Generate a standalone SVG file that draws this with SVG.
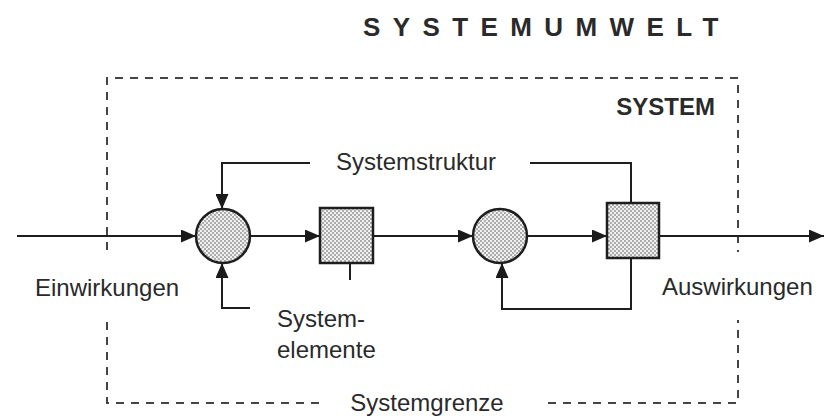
<svg xmlns="http://www.w3.org/2000/svg" width="826" height="419" viewBox="0 0 826 419">
<defs>
<style>
.t{font-family:"Liberation Sans",Arial,sans-serif;font-size:24px;fill:#2a2a2a}
.b{font-weight:bold}
.ln{fill:none;stroke:#1e1e1e;stroke-width:2}
.dash{fill:none;stroke:#444;stroke-width:2;stroke-dasharray:8 7}
.node{stroke:#1e1e1e;stroke-width:2.5;fill:url(#dots)}
</style>
<pattern id="dots" width="4" height="4" patternUnits="userSpaceOnUse">
<rect width="4" height="4" fill="#f0f0f0"/>
<circle cx="1" cy="1" r="0.9" fill="#8c8c8c"/>
<circle cx="3" cy="3" r="0.9" fill="#8c8c8c"/>
</pattern>
<marker id="ah" markerUnits="userSpaceOnUse" markerWidth="16" markerHeight="13" refX="15" refY="6.5" orient="auto">
<path d="M0,0 L15,6.5 L0,13 z" fill="#1a1a1a"/>
</marker>
</defs>
<rect width="826" height="419" fill="#ffffff"/>

<g id="boundary">
<path class="dash" d="M107,250 L107,78 L738,78 L738,252"/>
<path class="dash" d="M107,322 L107,403 L322,403"/>
<path class="dash" d="M548,403 L738,403 L738,320"/>
</g>

<g id="connectors">
<line class="ln" x1="17" y1="236" x2="196" y2="236" marker-end="url(#ah)"/>
<line class="ln" x1="250" y1="236" x2="320" y2="236" marker-end="url(#ah)"/>
<line class="ln" x1="373" y1="236" x2="473" y2="236" marker-end="url(#ah)"/>
<line class="ln" x1="527" y1="236" x2="607" y2="236" marker-end="url(#ah)"/>
<line class="ln" x1="659" y1="236" x2="824" y2="236" marker-end="url(#ah)"/>
<polyline class="ln" points="310,163 222,163 222,209" marker-end="url(#ah)"/>
<polyline class="ln" points="530,163 631,163 631,203"/>
<polyline class="ln" points="250,308 222,308 222,263" marker-end="url(#ah)"/>
<polyline class="ln" points="631,258 631,309 502,309 502,263" marker-end="url(#ah)"/>
<line class="ln" x1="350" y1="263" x2="350" y2="280"/>
</g>

<g id="circle1"><circle class="node" cx="223" cy="236" r="27"/></g>
<g id="box1"><rect class="node" x="320" y="208" width="53" height="55"/></g>
<g id="circle2"><circle class="node" cx="500" cy="236" r="27"/></g>
<g id="box2"><rect class="node" x="607" y="203" width="52" height="55"/></g>

<g id="labels">
<text class="t b" x="363" y="36" font-size="26" style="font-size:26px;letter-spacing:12.4px">SYSTEMUMWELT</text>
<text class="t b" x="715" y="115" text-anchor="end">SYSTEM</text>
<text class="t" x="416" y="170" text-anchor="middle">Systemstruktur</text>
<text class="t" x="35" y="296">Einwirkungen</text>
<text class="t" x="662" y="295">Auswirkungen</text>
<text class="t" x="277" y="327">System-</text>
<text class="t" x="277" y="358">elemente</text>
<text class="t" x="427" y="411" text-anchor="middle">Systemgrenze</text>
</g>
</svg>
